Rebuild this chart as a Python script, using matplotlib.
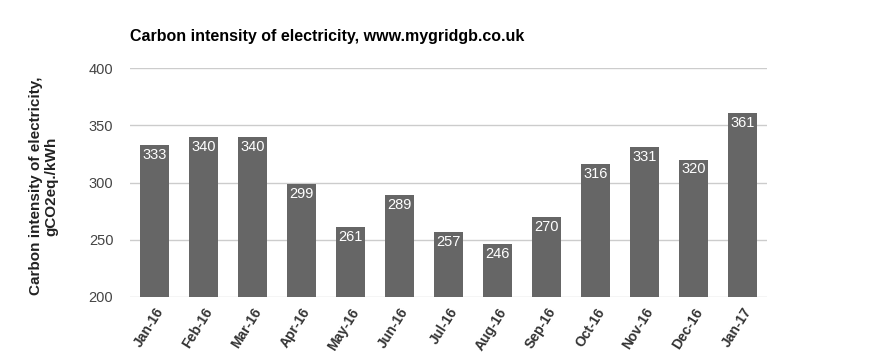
import matplotlib
matplotlib.use("Agg")
import matplotlib.pyplot as plt

months = ["Jan-16", "Feb-16", "Mar-16", "Apr-16", "May-16", "Jun-16", "Jul-16",
          "Aug-16", "Sep-16", "Oct-16", "Nov-16", "Dec-16", "Jan-17"]
values = [333, 340, 340, 299, 261, 289, 257, 246, 270, 316, 331, 320, 361]
yticks = [200, 250, 300, 350, 400]

plt.rcParams['font.family'] = ['Liberation Sans', 'DejaVu Sans']

fig = plt.figure(figsize=(8.87, 3.64), dpi=100)
ax = fig.add_axes([130/887, 1-297/364, (767-130)/887, (297-68)/364])

x = list(range(len(months)))
bars = ax.bar(x, values, width=0.61, color="#666666", zorder=3)
for xi, v in zip(x, values):
    ax.text(xi, v - 2.5, str(v), ha="center", va="top", color="white",
            fontsize=10.5, zorder=4)

ax.set_xlim(-0.5, len(months) - 0.5)
ax.set_ylim(200, 400)
ax.set_yticks(yticks)
ax.set_yticklabels([str(t) for t in yticks], color="#444444", fontsize=10.5)
ax.yaxis.grid(True, color="#cccccc", linewidth=1, zorder=0)
ax.tick_params(axis="y", length=0, pad=12)
ax.tick_params(axis="x", length=0, pad=6)
ax.set_xticks(x)
ax.set_xticklabels(months, rotation=58, ha="right", rotation_mode="anchor",
                   fontsize=10, fontweight="bold", color="#333333")
for s in ax.spines.values():
    s.set_visible(False)

fig.text(130/887, 1-37/364, "Carbon intensity of electricity, www.mygridgb.co.uk",
         ha="left", va="center", fontsize=11.5, fontweight="bold", color="#000000")
fig.text(44/887, 1-186/364, "Carbon intensity of electricity,\ngCO2eq./kWh",
         rotation=90, ha="center", va="center", fontsize=11, fontweight="bold",
         color="#222222", multialignment="center", linespacing=1.15)

fig.savefig("out.png", dpi=100)
